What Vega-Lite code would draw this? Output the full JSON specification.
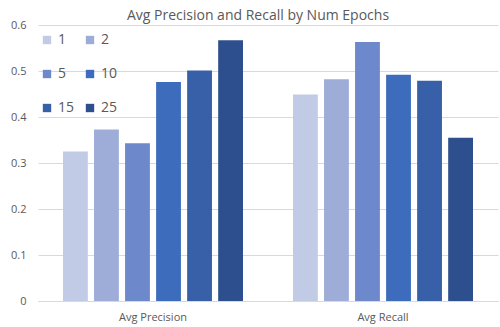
{
  "$schema": "https://vega.github.io/schema/vega-lite/v6.json",
  "width": 460,
  "height": 276,
  "autosize": {"type": "none"},
  "padding": {"left": 38, "top": 25, "right": 2, "bottom": 26},
  "background": "white",
  "title": {
    "text": "Avg Precision and Recall by Num Epochs",
    "fontSize": 14,
    "font": "Open Sans",
    "fontWeight": "normal",
    "color": "#595959",
    "anchor": "middle",
    "dx": -10,
    "offset": -4
  },
  "data": {
    "values": [
      {"metric": "Avg Precision", "epochs": "1", "value": 0.325},
      {"metric": "Avg Precision", "epochs": "2", "value": 0.373},
      {"metric": "Avg Precision", "epochs": "5", "value": 0.343},
      {"metric": "Avg Precision", "epochs": "10", "value": 0.476},
      {"metric": "Avg Precision", "epochs": "15", "value": 0.501},
      {"metric": "Avg Precision", "epochs": "25", "value": 0.567},
      {"metric": "Avg Recall", "epochs": "1", "value": 0.449},
      {"metric": "Avg Recall", "epochs": "2", "value": 0.482},
      {"metric": "Avg Recall", "epochs": "5", "value": 0.563},
      {"metric": "Avg Recall", "epochs": "10", "value": 0.492},
      {"metric": "Avg Recall", "epochs": "15", "value": 0.479},
      {"metric": "Avg Recall", "epochs": "25", "value": 0.355}
    ]
  },
  "mark": {"type": "bar"},
  "encoding": {
    "x": {
      "field": "metric",
      "type": "nominal",
      "title": null,
      "scale": {"paddingInner": 0.2174, "paddingOuter": 0.1087},
      "axis": {
        "labelAngle": 0,
        "labelFont": "Open Sans",
        "labelFontSize": 11,
        "labelColor": "#595959",
        "labelPadding": 10,
        "ticks": false,
        "domainColor": "#d9d9d9",
        "domainWidth": 1
      }
    },
    "xOffset": {
      "field": "epochs",
      "type": "nominal",
      "sort": ["1", "2", "5", "10", "15", "25"],
      "scale": {"paddingInner": 0.2, "paddingOuter": 0}
    },
    "y": {
      "field": "value",
      "type": "quantitative",
      "title": null,
      "scale": {"domain": [0, 0.6], "nice": false},
      "axis": {
        "values": [0, 0.1, 0.2, 0.3, 0.4, 0.5, 0.6],
        "labelExpr": "datum.value == 0 ? '0' : format(datum.value, '.1f')",
        "labelFont": "Open Sans",
        "labelFontSize": 11,
        "labelColor": "#595959",
        "labelPadding": 12,
        "ticks": false,
        "domain": false,
        "gridColor": "#d9d9d9",
        "gridWidth": 1
      }
    },
    "color": {
      "field": "epochs",
      "type": "nominal",
      "sort": ["1", "2", "5", "10", "15", "25"],
      "scale": {
        "domain": ["1", "2", "5", "10", "15", "25"],
        "range": ["#C1CBE5", "#9EADD8", "#6D89CB", "#3E6CBC", "#3860A8", "#2E4F8D"]
      },
      "legend": {
        "title": null,
        "orient": "none",
        "legendX": 2,
        "legendY": 8,
        "direction": "horizontal",
        "columns": 2,
        "columnPadding": 8,
        "rowPadding": 20,
        "symbolType": "square",
        "symbolSize": 70,
        "symbolStrokeWidth": 0,
        "labelFont": "Open Sans",
        "labelFontSize": 14,
        "labelColor": "#595959",
        "labelOffset": 4
      }
    }
  },
  "config": {"view": {"stroke": null}}
}
